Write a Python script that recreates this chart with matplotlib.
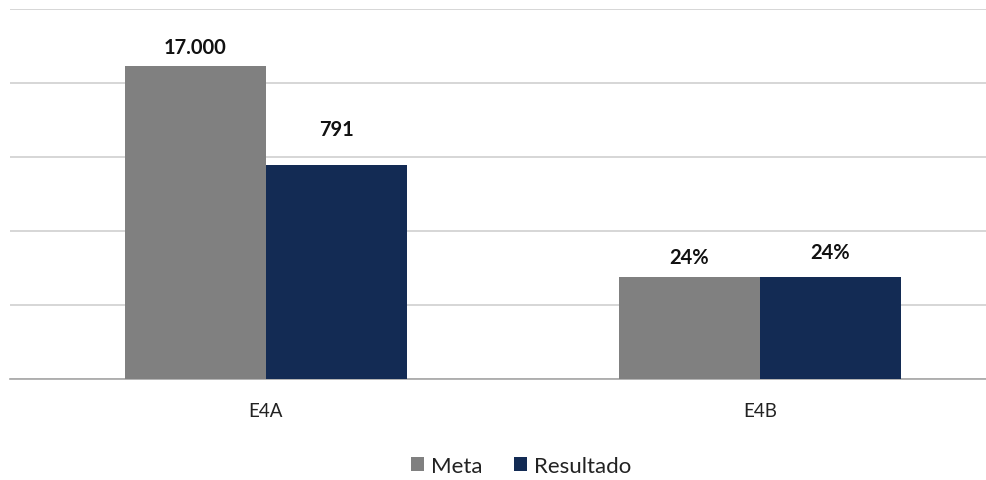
import matplotlib.pyplot as plt
import numpy as np

plt.rcParams['font.family'] = ['Lato', 'DejaVu Sans']

categories = ['E4A', 'E4B']
meta = [4.23, 1.38]
resultado = [2.89, 1.38]
meta_labels = ['17.000', '24%']
resultado_labels = ['791', '24%']

fig = plt.figure(figsize=(9.87, 4.81), dpi=100)
ax = fig.add_axes([10/987, 1-380/481, 977/987, 370/481])

x = np.arange(len(categories))
w = 0.285
b1 = ax.bar(x - w/2, meta, w, color='#808080', label='Meta', zorder=3)
b2 = ax.bar(x + w/2, resultado, w, color='#132B54', label='Resultado', zorder=3)

ax.set_ylim(0, 5)
ax.set_xlim(-0.518, 1.46)
ax.set_yticks(np.arange(0, 6, 1))
ax.yaxis.grid(True, color='#D0D0D0', lw=1.2, zorder=0)
ax.tick_params(axis='y', left=False, labelleft=False)
ax.tick_params(axis='x', bottom=False, labelsize=13.5, pad=13, colors='#222222')
ax.set_xticks(x)
ax.set_xticklabels(categories)
for s in ['top', 'right', 'left']:
    ax.spines[s].set_visible(False)
ax.spines['bottom'].set_color('#A6A6A6')
ax.spines['bottom'].set_linewidth(1.2)

offs_meta = [14, 14]
offs_res = [26, 18]
for i in range(len(categories)):
    ax.annotate(meta_labels[i], (x[i] - w/2, meta[i]), xytext=(0, offs_meta[i]),
                textcoords='offset points', ha='center', va='center',
                fontsize=14.5, fontweight='bold', color='#111111')
    ax.annotate(resultado_labels[i], (x[i] + w/2, resultado[i]), xytext=(0, offs_res[i]),
                textcoords='offset points', ha='center', va='center',
                fontsize=14.5, fontweight='bold', color='#111111')

fig.legend(loc='center', bbox_to_anchor=(521/987, 1-467/481), ncol=2, frameon=False,
           fontsize=16, handlelength=0.6, handleheight=0.6, handletextpad=0.3,
           columnspacing=1.4, labelcolor='#222222')

fig.savefig('out.png', dpi=100)
